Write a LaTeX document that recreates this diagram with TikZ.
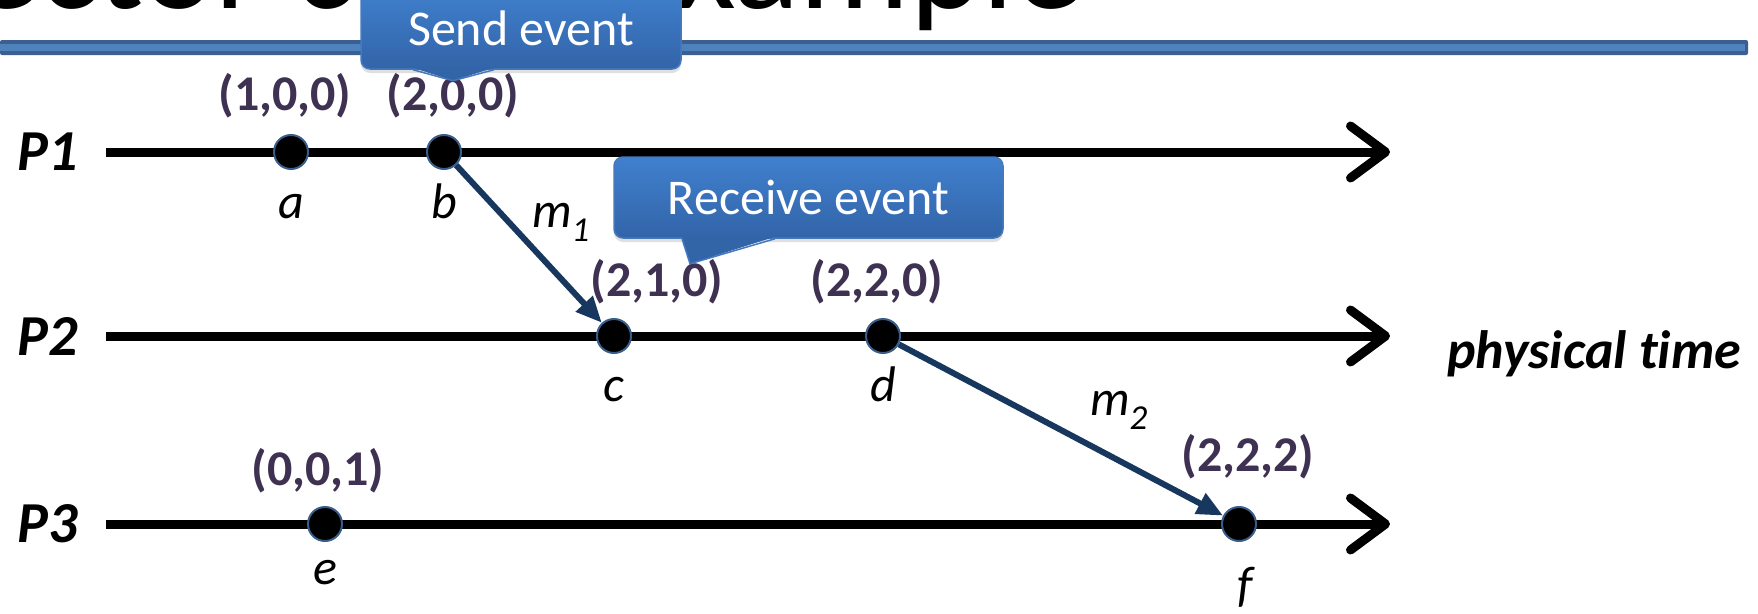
\documentclass[tikz,border=0pt]{standalone}
\usepackage{fontspec}
\setmainfont{Carlito}[Ligatures=NoCommon]
\usetikzlibrary{arrows.meta,positioning,calc,shadows}
\definecolor{clockpurple}{RGB}{63,49,81}
\definecolor{eventrim}{RGB}{56,93,138}
\definecolor{msgblue}{RGB}{23,55,94}
\definecolor{bardark}{RGB}{58,96,144}
\definecolor{barlight}{RGB}{79,129,189}
\definecolor{calltop}{RGB}{64,128,206}
\definecolor{callbot}{RGB}{50,100,168}
\definecolor{callrim}{RGB}{70,120,190}

\begin{document}
\begin{tikzpicture}[
    x=1pt, y=-1pt,
    event/.style={circle, fill=black, draw=eventrim, line width=2pt, minimum size=34pt, inner sep=0pt},
    evname/.style={font=\fontsize{50}{60}\selectfont\itshape, inner sep=0pt},
    clock/.style={font=\fontsize{50}{60}\selectfont\bfseries, text=clockpurple, inner sep=0pt},
    proc/.style={font=\fontsize{58}{70}\selectfont\bfseries\itshape, inner sep=0pt},
    timeline/.style={line width=9pt, -{Straight Barb[length=35pt, width=52pt, round]}},
    msg/.style={draw=msgblue, line width=6pt, -{Triangle[length=26pt, width=22pt]}},
    callbox/.style={rectangle, rounded corners=9pt, top color=calltop, bottom color=callbot,
        draw=callrim, line width=1.5pt, text=white, font=\fontsize{50}{60}\selectfont, inner sep=0pt,
        drop shadow={shadow xshift=0pt, shadow yshift=-4pt, opacity=0.25}}
]
    \useasboundingbox (0,0) rectangle (1758,613);
    \clip (0,0) rectangle (1758,613);

    % Slide title (cut off) and bar
    \node[anchor=base east, inner sep=0pt, font=\fontsize{138}{160}\selectfont] (title) at (1083,9) {Vector clock example};
    \fill[bardark, rounded corners=2pt] (0,40) rectangle (1748,55);
    \fill[barlight] (0,44) rectangle (1745,51);

    % Timelines
    \coordinate (s1) at (106,152);
    \coordinate (t1) at (1390,152);
    \coordinate (s2) at (106,336);
    \coordinate (t2) at (1390,336);
    \coordinate (s3) at (106,524);
    \coordinate (t3) at (1390,524);
    \draw[timeline] (s1) -- (t1);
    \draw[timeline] (s2) -- (t2);
    \draw[timeline] (s3) -- (t3);

    \node[proc, left=28pt of s1] (p1) {P1};
    \node[proc, left=28pt of s2] (p2) {P2};
    \node[proc, left=28pt of s3] (p3) {P3};
    \node[proc, font=\fontsize{54}{64}\selectfont\bfseries\itshape, right=57pt of t2, yshift=-18pt] (ptime) {physical time};

    % Events
    \node[event] (a) at (291,152) {};
    \node[event] (b) at (444,152) {};
    \node[event] (c) at (614,336) {};
    \node[event] (d) at (883,336) {};
    \node[event] (e) at (325,524) {};
    \node[event] (f) at (1239,524) {};

    \node[evname, below=48pt of a, anchor=base] (la) {a};
    \node[evname, below=48pt of b, anchor=base] (lb) {b};
    \node[evname, below=47pt of c, anchor=base] (lc) {c};
    \node[evname, below=47pt of d, anchor=base] (ld) {d};
    \node[evname, below=42pt of e, anchor=base] (le) {e};
    \node[evname, below=59pt of f, anchor=base, xshift=6pt] (lf) {f};

    % Vector clocks
    \node[clock, above=38pt of a, anchor=center, xshift=-6pt] (va) {(1,0,0)};
    \node[clock, above=38pt of b, anchor=center, xshift=9pt] (vb) {(2,0,0)};
    \node[clock, above=36pt of c, anchor=center, xshift=43pt] (vc) {(2,1,0)};
    \node[clock, above=36pt of d, anchor=center, xshift=-6pt] (vd) {(2,2,0)};
    \node[clock, above=35pt of e, anchor=center, xshift=-7pt] (ve) {(0,0,1)};
    \node[clock, above=49pt of f, anchor=center, xshift=9pt] (vf) {(2,2,2)};

    % Messages
    \draw[msg] (b) -- node[evname, xshift=32pt, yshift=22pt] (m1) {m\textsubscript{1}} (c);
    \draw[msg] (d) -- node[evname, xshift=58pt, yshift=20pt] (m2) {m\textsubscript{2}} (f);

    % Callouts
    \node[callbox, minimum width=320pt, minimum height=82pt] (send) at (521,28) {Send event};
    \fill[callbot] ($(send.south)+(-108,-2)$) -- ($(send.south)+(-68,11)$) -- ($(send.south)+(-27,-2)$) -- cycle;
    \draw[callrim, line width=1.5pt] ($(send.south)+(-108,0)$) -- ($(send.south)+(-68,11)$) -- ($(send.south)+(-27,0)$);

    \node[callbox, minimum width=389pt, minimum height=81pt] (recv) at (808.5,197.5) {Receive event};
    \fill[callbot] ($(recv.south)+(-126.5,-2)$) -- ($(recv.south)+(-118.5,25)$) -- ($(recv.south)+(-33.5,-2)$) -- cycle;
    \draw[callrim, line width=1.5pt] ($(recv.south)+(-126.5,0)$) -- ($(recv.south)+(-118.5,25)$) -- ($(recv.south)+(-33.5,0)$);
\end{tikzpicture}
\end{document}
